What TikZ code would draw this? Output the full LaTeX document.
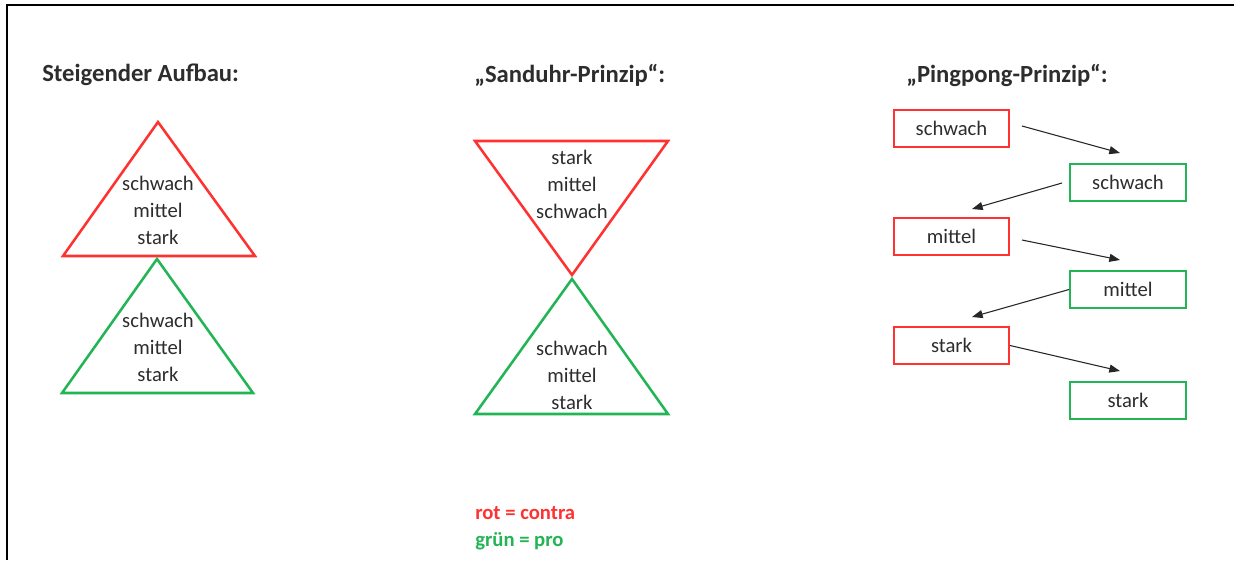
\documentclass[tikz,border=0pt]{standalone}
\usepackage{fontspec}
\setmainfont{Carlito}
\usetikzlibrary{arrows.meta}
\definecolor{cred}{RGB}{255,50,50}
\definecolor{cgreen}{RGB}{35,180,85}
\definecolor{ctext}{RGB}{45,45,45}
\begin{document}
\begin{tikzpicture}[x=0.75pt,y=-0.75pt,
  body/.style={font=\fontsize{15.5}{20.25}\selectfont,text=ctext,align=center,inner sep=0pt},
  head/.style={font=\fontsize{18.5}{22}\selectfont\bfseries,text=ctext,inner sep=0pt,anchor=west},
  redtri/.style={draw=cred,line width=1.9pt,line join=miter},
  greentri/.style={draw=cgreen,line width=1.9pt,line join=miter},
  redbox/.style={draw=cred,line width=1.5pt,minimum width=86.25pt,minimum height=27.75pt,body},
  greenbox/.style={draw=cgreen,line width=1.5pt,minimum width=87pt,minimum height=27.75pt,body},
  conn/.style={draw=black!85,line width=0.8pt,-{Triangle[length=8pt,width=6pt]}},
  legend/.style={font=\fontsize{15.5}{19}\selectfont\bfseries,inner sep=0pt,anchor=west}]
\useasboundingbox (0,0) rectangle (1234,560);
\fill[white] (0,0) rectangle (1234,560);
% frame
\draw[line width=2pt] (7,560) -- (7,5) -- (1234,5);

% headings
\node[head] (h1) at (42,75) {Steigender Aufbau:};
\node[head] (h2) at (474,75) {„Sanduhr-Prinzip“:};
\node[head] (h3) at (906,75) {„Pingpong-Prinzip“:};

% left: rising structure
\coordinate (l1a) at (158,122); \coordinate (l1b) at (63,256); \coordinate (l1c) at (255,256);
\draw[redtri] (l1a) -- (l1b) -- (l1c) -- cycle;
\coordinate (l2a) at (157,259); \coordinate (l2b) at (62,393); \coordinate (l2c) at (253,393);
\draw[greentri] (l2a) -- (l2b) -- (l2c) -- cycle;
\node[body] (t1) at (158,210) {schwach\\mittel\\stark};
\node[body] (t2) at (158,347) {schwach\\mittel\\stark};

% middle: hourglass
\coordinate (m1a) at (475,141); \coordinate (m1b) at (668,141); \coordinate (m1c) at (572,275);
\draw[redtri] (m1a) -- (m1b) -- (m1c) -- cycle;
\coordinate (m2a) at (572,279); \coordinate (m2b) at (475,414); \coordinate (m2c) at (668,414);
\draw[greentri] (m2a) -- (m2b) -- (m2c) -- cycle;
\node[body] (t3) at (572,184) {stark\\mittel\\schwach};
\node[body] (t4) at (572,375) {schwach\\mittel\\stark};

% right: ping-pong
\node[redbox] (r1) at (951.5,128.5) {schwach};
\node[greenbox] (g1) at (1128,182) {schwach};
\node[redbox] (r2) at (951.5,236.5) {mittel};
\node[greenbox] (g2) at (1128,289.5) {mittel};
\node[redbox] (r3) at (951.5,345.5) {stark};
\node[greenbox] (g3) at (1128,400.5) {stark};

\coordinate (a1s) at (1022,126); \coordinate (a1e) at (1120,153);
\coordinate (a2s) at (1062,183); \coordinate (a2e) at (972,209);
\coordinate (a3s) at (1022,240); \coordinate (a3e) at (1120,260);
\coordinate (a4s) at (g2.west); \coordinate (a4e) at (972,317);
\coordinate (a5s) at (r3.east); \coordinate (a5e) at (1120,371);
\draw[conn] (a1s) -- (a1e);
\draw[conn] (a2s) -- (a2e);
\draw[conn] (a3s) -- (a3e);
\draw[conn] (a4s) -- (a4e);
\draw[conn] (a5s) -- (a5e);

% legend
\node[legend,text=cred] (lg1) at (475,513) {rot = contra};
\node[legend,text=cgreen] (lg2) at (475,541) {grün = pro};
\end{tikzpicture}
\end{document}
